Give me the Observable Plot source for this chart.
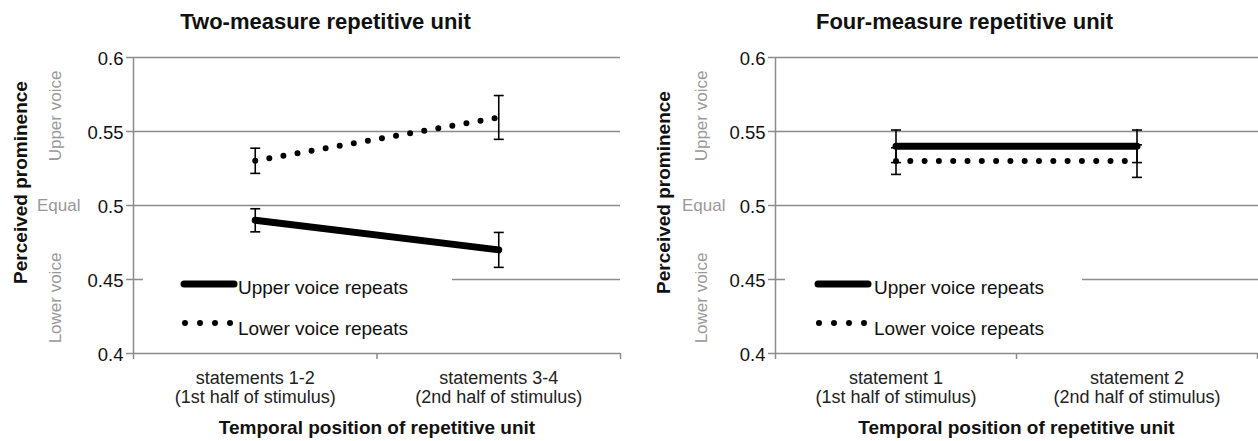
<!DOCTYPE html>
<html><head><meta charset="utf-8">
<script src="https://cdn.jsdelivr.net/npm/d3@7"></script>
<script src="https://cdn.jsdelivr.net/npm/@observablehq/plot@0.6"></script>
<style>
body{margin:0;background:#fff;font-family:"Liberation Sans",Arial,sans-serif;}
#chart{position:relative;width:1258px;height:441px;overflow:hidden;background:#fff;}
.panel{position:absolute;top:0;}
.legend{position:absolute;background:#fff;}
</style></head><body><div id="chart"></div>
<script>
// ---- data ----
const series = ["Upper voice repeats", "Lower voice repeats"];
const yTicks = [0.4, 0.45, 0.5, 0.55, 0.6];
const yTickLabels = ["0.4", "0.45", "0.5", "0.55", "0.6"];
const gridValues = [0.45, 0.5, 0.55, 0.6];
const sideLabels = ["Upper voice", "Lower voice"];
const sideLabelY = [0.5605, 0.4375];
const equalLabel = "Equal";
const equalY = 0.5;
const xTitle = "Temporal position of repetitive unit";
const yTitle = "Perceived prominence";

// Panel A
const titleA = "Two-measure repetitive unit";
const catsA = ["statements 1-2\n(1st half of stimulus)", "statements 3-4\n(2nd half of stimulus)"];
const upperA = [0.49, 0.47];
const upperErrA = [0.0078, 0.0118];
const lowerA = [0.5302, 0.5595];
const lowerErrA = [0.0085, 0.0148];

// Panel B
const titleB = "Four-measure repetitive unit";
const catsB = ["statement 1\n(1st half of stimulus)", "statement 2\n(2nd half of stimulus)"];
const upperB = [0.54, 0.54];
const upperErrB = [0.011, 0.011];
const lowerB = [0.53, 0.53];
const lowerErrB = [0.009, 0.011];

// ---- drawing ----
const gray = "#8c8c8c";
const FONT = "'Liberation Sans', Arial, sans-serif";
const cap = {draw(ctx, size) { const w = Math.sqrt(size / Math.PI); ctx.moveTo(-w, 0); ctx.lineTo(w, 0); }};

function panel(cfg) {
  const {title, cats, upper, upperErr, lower, lowerErr} = cfg;
  const rows = [];
  cats.forEach((c, i) => {
    rows.push({series: series[0], pos: i + 0.5, v: upper[i], lo: upper[i] - upperErr[i], hi: upper[i] + upperErr[i]});
    rows.push({series: series[1], pos: i + 0.5, v: lower[i], lo: lower[i] - lowerErr[i], hi: lower[i] + lowerErr[i]});
  });
  const catTicks = cats.map((c, i) => i + 0.5);
  const bounds = d3.range(cats.length + 1);
  return Plot.plot({
    width: 629, height: 441,
    marginLeft: cfg.marginLeft, marginRight: cfg.marginRight, marginTop: 57, marginBottom: 88,
    style: {fontFamily: FONT, background: "transparent", overflow: "visible", color: "#111"},
    x: {domain: [0, cats.length], range: cfg.range},
    y: {domain: [0.4, 0.6]},
    marks: [
      Plot.ruleY(gridValues, {stroke: gray, strokeWidth: 1.5}),
      Plot.ruleY([0.4], {stroke: gray, strokeWidth: 1.5}),
      Plot.ruleX([0], {y1: 0.4, y2: 0.6, stroke: gray, strokeWidth: 1.5}),
      Plot.axisY(yTicks, {tickFormat: () => "", tickSize: 7, stroke: gray, strokeWidth: 1.5, label: null}),
      Plot.text(yTicks, {frameAnchor: "left", y: d => d, text: d => yTickLabels[yTicks.indexOf(d)], dx: -10, dy: 2,
        textAnchor: "end", lineAnchor: "middle", fontSize: 18.5, fill: "#111"}),
      Plot.axisX(bounds, {tickFormat: () => "", tickSize: 6, stroke: gray, strokeWidth: 1.5, label: null}),
      Plot.axisX(catTicks, {tickFormat: d => cats[Math.floor(d)], tickSize: 0, tickPadding: 16,
        fontSize: 18, lineHeight: 1.1, fill: "#222", label: null}),
      Plot.line(rows.filter(d => d.series === series[0]), {x: "pos", y: "v", stroke: "black", strokeWidth: 7}),
      Plot.line(rows.filter(d => d.series === series[1]), {x: "pos", y: "v", stroke: "black", strokeWidth: 6,
        strokeDasharray: "0,14.3", strokeLinecap: "round"}),
      Plot.ruleX(rows, {x: "pos", y1: "lo", y2: "hi", stroke: "black", strokeWidth: 1.6}),
      Plot.dot(rows, {x: "pos", y: "lo", symbol: cap, r: 5, stroke: "black", strokeWidth: 1.6, fill: "none"}),
      Plot.dot(rows, {x: "pos", y: "hi", symbol: cap, r: 5, stroke: "black", strokeWidth: 1.6, fill: "none"}),
      Plot.text([title], {frameAnchor: "top-left", dx: cfg.titleDx, dy: -36, fontSize: 22, fontWeight: "bold",
        textAnchor: "middle", lineAnchor: "middle", fill: "#111"}),
      Plot.text([xTitle], {x: cats.length / 2, y: 0.4, dy: 74, fontSize: 19, fontWeight: "bold",
        lineAnchor: "middle", fill: "#111"}),
      Plot.text([yTitle], {frameAnchor: "top-left", dx: cfg.yTitleDx, dy: cfg.yTitleDy, rotate: -90, fontSize: 19,
        fontWeight: "bold", textAnchor: "middle", lineAnchor: "middle", fill: "#111"}),
      Plot.text(sideLabels, {frameAnchor: "left", y: (d, i) => sideLabelY[i], dx: cfg.sideDx, rotate: -90,
        fontSize: 17, fill: "#999", textAnchor: "middle", lineAnchor: "middle"}),
      Plot.text([equalLabel], {frameAnchor: "left", y: () => equalY, dx: cfg.equalDx, textAnchor: "end",
        fontSize: 17, fill: "#999", lineAnchor: "middle"})
    ]
  });
}

function legend(left, width, sampleX, textX) {
  const div = document.createElement("div");
  div.className = "legend";
  div.style.left = left + "px"; div.style.top = "262px";
  div.style.width = width + "px"; div.style.height = "88px";
  const svg = d3.create("svg").attr("width", width).attr("height", 88)
    .style("font-family", FONT).style("display", "block");
  svg.append("line").attr("x1", sampleX).attr("x2", sampleX + 50).attr("y1", 22).attr("y2", 22)
    .attr("stroke", "black").attr("stroke-width", 7).attr("stroke-linecap", "round");
  svg.append("line").attr("x1", sampleX + 1).attr("x2", sampleX + 48).attr("y1", 61).attr("y2", 61)
    .attr("stroke", "black").attr("stroke-width", 6).attr("stroke-linecap", "round").attr("stroke-dasharray", "0,15");
  svg.append("text").attr("x", textX).attr("y", 25).attr("dy", "0.35em").attr("font-size", 19).attr("fill", "#111").text(series[0]);
  svg.append("text").attr("x", textX).attr("y", 66).attr("dy", "0.35em").attr("font-size", 19).attr("fill", "#111").text(series[1]);
  div.appendChild(svg.node());
  return div;
}

const chart = document.getElementById("chart");
const a = panel({title: titleA, cats: catsA, upper: upperA, upperErr: upperErrA, lower: lowerA, lowerErr: lowerErrA,
  marginLeft: 133, marginRight: 9, range: [133, 620], titleDx: 192, yTitleDx: -113, yTitleDy: 125, sideDx: -78, equalDx: -53});
const b = panel({title: titleB, cats: catsB, upper: upperB, upperErr: upperErrB, lower: lowerB, lowerErr: lowerErrB,
  marginLeft: 146, marginRight: 0, range: [146, 628], titleDx: 189, yTitleDx: -112, yTitleDy: 135, sideDx: -74, equalDx: -50});
const wa = document.createElement("div"); wa.className = "panel"; wa.style.left = "0px"; wa.appendChild(a);
const wb = document.createElement("div"); wb.className = "panel"; wb.style.left = "629px"; wb.appendChild(b);
chart.appendChild(wa); chart.appendChild(wb);
chart.appendChild(legend(143, 309, 41, 95));
chart.appendChild(legend(785, 297, 33, 89));
</script>
</body></html>
